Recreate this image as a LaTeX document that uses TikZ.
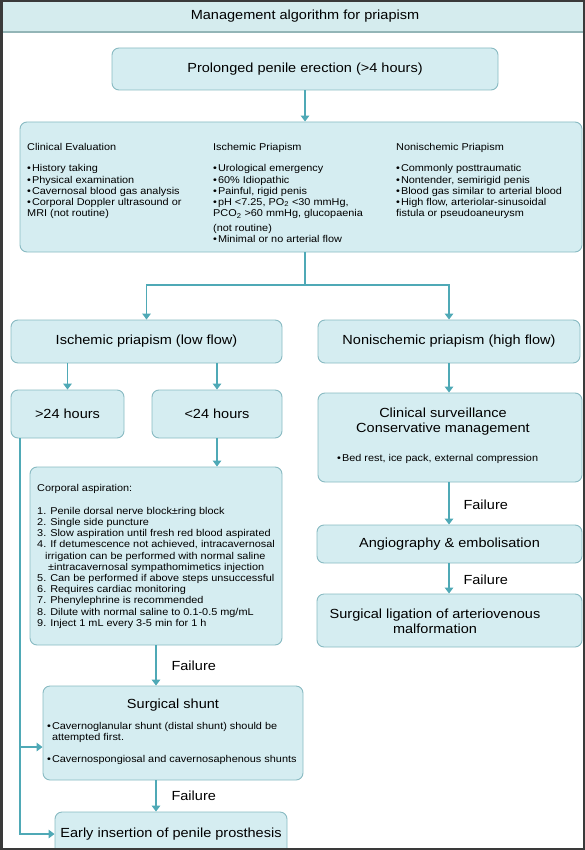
\documentclass[tikz,border=0pt]{standalone}
\usepackage{fontspec}
\setmainfont[FakeStretch=1.1]{Liberation Sans}
\usetikzlibrary{arrows.meta, positioning}
\definecolor{boxfill}{HTML}{D5EDF1}
\definecolor{boxline}{HTML}{88BAC2}
\definecolor{flow}{HTML}{4FA9B6}
\definecolor{framegray}{HTML}{3A3A3A}
\definecolor{barfill}{HTML}{D5ECEE}
\definecolor{barline}{HTML}{93B5B7}
\newcommand{\bigtext}{\fontsize{13.2}{15}\selectfont}
\newcommand{\smalltext}{\fontsize{9.9}{11.2}\selectfont}
\newcommand{\bul}{\textbullet\kern1pt}
\tikzstyle{box} = [draw=boxline, fill=boxfill, rounded corners=7pt, line width=0.9pt]
\tikzstyle{bigfont} = [font=\bigtext]
\tikzstyle{listtext} = [font=\smalltext, align=left, inner sep=0pt, anchor=north west]
\tikzstyle{flowline} = [draw=flow, line width=1.5pt]
\tikzstyle{flowarrow} = [flowline, -{Triangle[width=8.5pt,length=6pt]}]

\begin{document}
\begin{tikzpicture}[x=1pt, y=-1pt]
	\useasboundingbox (0, 0) rectangle (585, 850);
	\clip (0, 0) rectangle (585, 850);

	\fill [barfill] (0, 0) rectangle (585, 32);
	\draw [barline, line width=1.5pt] (0, 32) -- (585, 32);
	\node (Title) [bigfont] at (305, 16) {Management algorithm for priapism};

	\node (Prolonged) [box, bigfont, minimum width=386pt, minimum height=42pt] at (305, 69) {Prolonged penile erection (>4 hours)};

	\node (Evaluation) [box, minimum width=562pt, minimum height=130pt] at (301, 187) {};
	\node (EvalText) [listtext] at (27, 143) {Clinical Evaluation\\[10.3pt]
		\bul History taking\\
		\bul Physical examination\\
		\bul Cavernosal blood gas analysis\\
		\bul Corporal Doppler ultrasound or\\
		MRI (not routine)};
	\node (IschText) [listtext] at (213, 143) {Ischemic Priapism\\[10.3pt]
		\bul Urological emergency\\
		\bul 60\% Idiopathic\\
		\bul Painful, rigid penis\\
		\bul pH <7.25, PO\textsubscript{2} <30 mmHg,\\
		PCO\textsubscript{2} >60 mmHg, glucopaenia\\[3.5pt]
		(not routine)\\
		\bul Minimal or no arterial flow};
	\node (NonischText) [listtext] at (396, 143) {Nonischemic Priapism\\[10.3pt]
		\bul Commonly posttraumatic\\
		\bul Nontender, semirigid penis\\
		\bul Blood gas similar to arterial blood\\
		\bul High flow, arteriolar-sinusoidal\\
		fistula or pseudoaneurysm};

	\draw [flowarrow] (Prolonged.south) -- (Prolonged.south |- Evaluation.north);

	\node (Ischemic) [box, bigfont, minimum width=271pt, minimum height=43pt] at (146.5, 341.5) {Ischemic priapism (low flow)};
	\node (Nonischemic) [box, bigfont, minimum width=262pt, minimum height=43pt] at (449, 341.5) {Nonischemic priapism (high flow)};

	\coordinate (Split) at (305, 285);
	\draw [flowline] (Prolonged.south |- Evaluation.south) -- (Split);
	\draw [flowarrow] (Split) -| (Ischemic.north);
	\draw [flowarrow] (Split) -| (Nonischemic.north);

	\node (Over24) [box, bigfont, minimum width=113pt, minimum height=48pt] at (67.5, 414) {>24 hours};
	\node (Under24) [box, bigfont, minimum width=130pt, minimum height=48pt] at (217, 414) {<24 hours};

	\draw [flowarrow] (Over24.north |- Ischemic.south) -- (Over24.north);
	\draw [flowarrow] (Under24.north |- Ischemic.south) -- (Under24.north);

	\node (Clinical) [box, minimum width=264pt, minimum height=89pt] at (450, 437.5) {};
	\node (ClinicalHead) [bigfont, align=center] at (443, 421.5) {Clinical surveillance\\Conservative management};
	\node (ClinicalList) [listtext, anchor=west] at (337, 459) {\bul Bed rest, ice pack, external compression};
	\draw [flowarrow] (Nonischemic.south) -- (Nonischemic.south |- Clinical.north);

	\node (Angio) [box, bigfont, minimum width=265pt, minimum height=38pt] at (449.5, 544) {Angiography \& embolisation};
	\node (Ligation) [box, minimum width=265pt, minimum height=53pt] at (449.5, 620.5) {};
	\node (LigationText) [bigfont, align=center] at (435, 621) {Surgical ligation of arteriovenous\\malformation};

	\draw [flowarrow] (Nonischemic.south |- Clinical.south) -- (Nonischemic.south |- Angio.north);
	\node (FailAngio) [bigfont, anchor=west] at (460, 505) {Failure};
	\draw [flowarrow] (Nonischemic.south |- Angio.south) -- (Nonischemic.south |- Ligation.north);
	\node (FailLigation) [bigfont, anchor=west] at (460, 580) {Failure};

	\node (Corporal) [box, minimum width=252pt, minimum height=178pt] at (156, 556) {};
	\node (CorporalText) [listtext] at (37, 484) {Corporal aspiration:\\[11.8pt]
		1. Penile dorsal nerve block±ring block\\
		2. Single side puncture\\
		3. Slow aspiration until fresh red blood aspirated\\
		4. If detumescence not achieved, intracavernosal\\
		\hspace*{8pt}irrigation can be performed with normal saline\\
		\hspace*{11pt}±intracavernosal sympathomimetics injection\\
		5. Can be performed if above steps unsuccessful\\
		6. Requires cardiac monitoring\\
		7. Phenylephrine is recommended\\
		8. Dilute with normal saline to 0.1-0.5 mg/mL\\
		9. Inject 1 mL every 3-5 min for 1 h};
	\draw [flowarrow] (Under24.south) -- (Under24.south |- Corporal.north);

	\node (Shunt) [box, minimum width=260pt, minimum height=94pt] at (173, 733) {};
	\node (ShuntHead) [bigfont] at (173, 705) {Surgical shunt};
	\node (ShuntList) [listtext] at (47, 722) {\bul Cavernoglanular shunt (distal shunt) should be\\
		\hphantom{\bul}attempted first.\\[11pt]
		\bul Cavernospongiosal and cavernosaphenous shunts};

	\draw [flowarrow] (Corporal.south) -- (Corporal.south |- Shunt.north);
	\node (FailShunt) [bigfont, anchor=west] at (168, 666) {Failure};

	\node (Early) [box, bigfont, minimum width=232pt, minimum height=44pt] at (171, 834) {Early insertion of penile prosthesis};
	\draw [flowarrow] (Corporal.south |- Shunt.south) -- (Corporal.south |- Early.north);
	\node (FailEarly) [bigfont, anchor=west] at (168, 796) {Failure};

	\coordinate (Rail) at (20, 834);
	\coordinate (ShuntIn) at (20, 747);
	\draw [flowarrow] (Over24.south -| Rail) |- (Early.west);
	\draw [flowarrow] (ShuntIn) -- (ShuntIn -| Shunt.west);

	\draw [framegray, line width=2.5pt] (1.25, 1.25) rectangle (583.75, 848.75);
\end{tikzpicture}
\end{document}
